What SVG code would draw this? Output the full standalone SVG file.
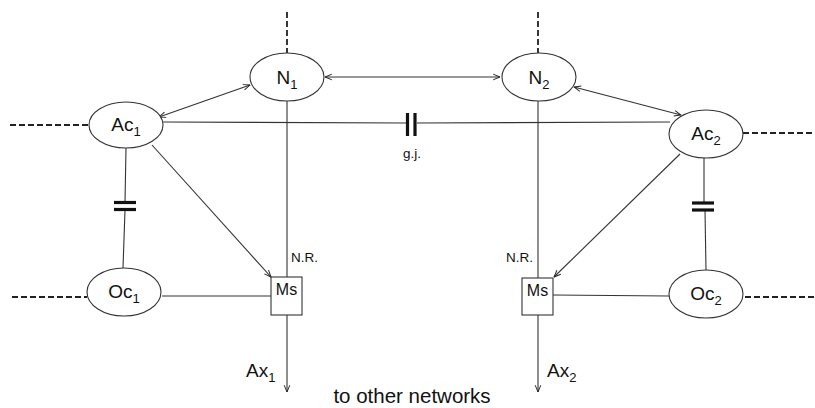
<svg xmlns="http://www.w3.org/2000/svg" width="815" height="408" viewBox="0 0 815 408">
<defs>
<marker id="ah" viewBox="0 0 10 10" refX="9.5" refY="5" markerWidth="8" markerHeight="8" orient="auto-start-reverse" markerUnits="userSpaceOnUse">
<path d="M1,1.5 L9.5,5 L1,8.5" fill="none" stroke="#222" stroke-width="1.2"/>
</marker>
<style>
.nd{fill:#fff;stroke:#333;stroke-width:1.1}
.ln{stroke:#333;stroke-width:1.1;fill:none}
.ds{stroke:#222;stroke-width:1.8;fill:none;stroke-dasharray:6,3}
.bar{stroke:#111;stroke-width:3.2;fill:none}
.t{font-family:"Liberation Sans",Arial,sans-serif;fill:#111}
.big{font-size:19px}
.sm{font-size:13.5px}
.sub{font-size:13px}
</style>
</defs>
<rect width="815" height="408" fill="#fff"/>
<g id="connectors">
<line class="ds" x1="287" y1="12" x2="287" y2="53"/>
<line class="ds" x1="538" y1="12" x2="538" y2="53"/>
<line class="ds" x1="10" y1="125" x2="89" y2="125"/>
<line class="ds" x1="12" y1="297" x2="87" y2="297"/>
<line class="ds" x1="743" y1="133" x2="815" y2="133"/>
<line class="ds" x1="745" y1="297" x2="815" y2="297"/>
<line class="ln" x1="325" y1="77" x2="500" y2="77" marker-start="url(#ah)" marker-end="url(#ah)"/>
<line class="ln" x1="159" y1="117" x2="250" y2="85" marker-start="url(#ah)" marker-end="url(#ah)"/>
<line class="ln" x1="574" y1="87" x2="681" y2="115" marker-start="url(#ah)" marker-end="url(#ah)"/>
<line class="ln" x1="163" y1="122" x2="406" y2="123"/>
<line class="ln" x1="417" y1="123" x2="670" y2="122"/>
<line class="bar" x1="407.5" y1="113" x2="407.5" y2="136"/>
<line class="bar" x1="415" y1="113" x2="415" y2="136"/>
<line class="ln" x1="287" y1="101" x2="287" y2="277"/>
<line class="ln" x1="538" y1="101" x2="538" y2="278"/>
<line class="ln" x1="287" y1="315" x2="287" y2="392" marker-end="url(#ah)"/>
<line class="ln" x1="538" y1="315" x2="538" y2="392" marker-end="url(#ah)"/>
<line class="ln" x1="152" y1="145" x2="271" y2="277" marker-end="url(#ah)"/>
<line class="ln" x1="680" y1="154" x2="554" y2="277" marker-end="url(#ah)"/>
<line class="ln" x1="126" y1="148" x2="125" y2="202"/>
<line class="ln" x1="125" y1="210" x2="123" y2="268"/>
<line class="bar" x1="114" y1="202.5" x2="136" y2="202.5"/>
<line class="bar" x1="114" y1="209.5" x2="136" y2="209.5"/>
<line class="ln" x1="704" y1="157" x2="704" y2="202"/>
<line class="ln" x1="705" y1="210" x2="706" y2="270"/>
<line class="bar" x1="692" y1="203" x2="714" y2="203"/>
<line class="bar" x1="692" y1="210" x2="714" y2="210"/>
<line class="ln" x1="162" y1="296" x2="271" y2="296"/>
<line class="ln" x1="553" y1="295" x2="669" y2="296"/>
</g>
<g id="N1"><ellipse class="nd" cx="287" cy="77" rx="37" ry="24"/><text class="t big" x="287" y="84" text-anchor="middle">N<tspan class="sub" dy="5">1</tspan></text></g>
<g id="N2"><ellipse class="nd" cx="539" cy="77" rx="37" ry="24"/><text class="t big" x="539" y="84" text-anchor="middle">N<tspan class="sub" dy="5">2</tspan></text></g>
<g id="Ac1"><ellipse class="nd" cx="126" cy="125" rx="37" ry="23"/><text class="t big" x="126" y="131" text-anchor="middle">Ac<tspan class="sub" dy="5">1</tspan></text></g>
<g id="Ac2"><ellipse class="nd" cx="706" cy="134" rx="37" ry="24"/><text class="t big" x="706" y="140" text-anchor="middle">Ac<tspan class="sub" dy="5">2</tspan></text></g>
<g id="Oc1"><ellipse class="nd" cx="124" cy="292" rx="37" ry="24"/><text class="t big" x="124" y="298" text-anchor="middle">Oc<tspan class="sub" dy="5">1</tspan></text></g>
<g id="Oc2"><ellipse class="nd" cx="706" cy="294" rx="37" ry="24"/><text class="t big" x="706" y="300" text-anchor="middle">Oc<tspan class="sub" dy="5">2</tspan></text></g>
<g id="Ms1"><rect class="nd" x="271" y="277" width="31" height="38"/><text class="t" style="font-size:16px" x="286.5" y="295" text-anchor="middle">Ms</text></g>
<g id="Ms2"><rect class="nd" x="522" y="278" width="31" height="37"/><text class="t" style="font-size:16px" x="537.5" y="296" text-anchor="middle">Ms</text></g>
<g id="labels">
<text class="t sm" x="403" y="158">g.j.</text>
<text class="t sm" x="291" y="262">N.R.</text>
<text class="t sm" x="506" y="262">N.R.</text>
<text class="t big" x="246" y="377">Ax<tspan class="sub" dy="5">1</tspan></text>
<text class="t big" x="547" y="377">Ax<tspan class="sub" dy="5">2</tspan></text>
<text class="t" style="font-size:20.5px" x="412" y="403" text-anchor="middle">to other networks</text>
</g>
</svg>
